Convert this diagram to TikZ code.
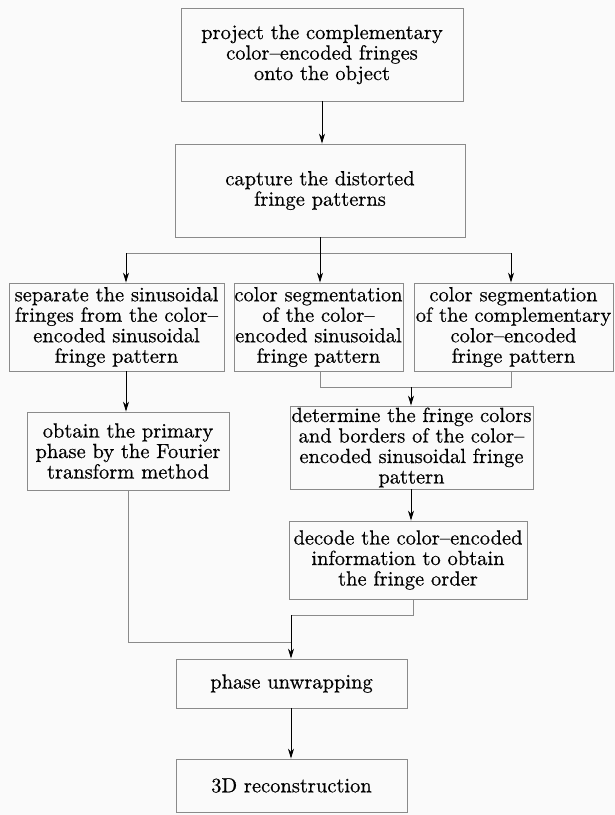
\documentclass[tikz,border=0pt]{standalone}
\usepackage{fontspec}
\setmainfont{lmroman10-regular.otf}[FakeBold=0.5]
\usetikzlibrary{arrows.meta}
\definecolor{bg}{HTML}{FAFAFA}
\definecolor{bx}{HTML}{8A8A8A}
\begin{document}
\begin{tikzpicture}[x=1pt,y=-1pt,
  box/.style={draw=bx, line width=0.9pt, rectangle, inner sep=0pt, align=center,
    font=\fontsize{20.5}{20.5}\selectfont},
  arr/.style={-{Stealth[length=10pt,width=6pt]}, line width=0.8pt, black},
  ln/.style={draw=bx, line width=0.9pt}]
\fill[bg] (0,0) rectangle (615,815);
\useasboundingbox (0,0) rectangle (615,815);

\node[box, minimum width=282pt, minimum height=93pt] (b1) at (322,54.5)
  {project the complementary\\color--encoded fringes\\onto the object};
\node[box, minimum width=290pt, minimum height=93pt] (b2) at (320,190.5)
  {capture the distorted\\fringe patterns};
\node[box, minimum width=215pt, minimum height=88pt] (b3) at (116.5,327)
  {separate the sinusoidal\\fringes from the color--\\encoded sinusoidal\\fringe pattern};
\node[box, minimum width=169pt, minimum height=88pt] (b4) at (318.5,327)
  {color segmentation\\of the color--\\encoded sinusoidal\\fringe pattern};
\node[box, minimum width=199pt, minimum height=88pt] (b5) at (513.5,327)
  {color segmentation\\of the complementary\\color--encoded\\fringe pattern};
\node[box, minimum width=202pt, minimum height=78pt] (b6) at (128,451)
  {obtain the primary\\phase by the Fourier\\transform method};
\node[box, minimum width=243pt, minimum height=83pt] (b7) at (411.5,447.5)
  {determine the fringe colors\\and borders of the color--\\encoded sinusoidal fringe\\pattern};
\node[box, minimum width=238pt, minimum height=78pt] (b8) at (408,560)
  {decode the color--encoded\\information to obtain\\the fringe order};
\node[box, minimum width=231pt, minimum height=49pt] (b9) at (291.5,683.5)
  {phase unwrapping};
\node[box, minimum width=231pt, minimum height=53pt] (b10) at (291.5,785.5)
  {3D reconstruction};

\coordinate (s) at (320,253);
\coordinate (sl) at (126,253);
\coordinate (sr) at (511,253);
\coordinate (m1) at (320,387);
\coordinate (m2) at (511,387);
\coordinate (m) at (411,387);
\coordinate (j1) at (413,615);
\coordinate (j2) at (291,615);
\coordinate (j3) at (128,642);
\coordinate (j4) at (291,642);

\draw[arr] (b1.south) -- (b1.south |- b2.north);
\draw[black, line width=0.8pt] (b2.south) -- (s);
\draw[ln] (sl) -- (sr);
\draw[arr] (sl) -- (sl |- b3.north);
\draw[arr] (s) -- (s |- b4.north);
\draw[arr] (sr) -- (sr |- b5.north);
\draw[arr] (b3.south -| sl) -- (sl |- b6.north);
\draw[ln] (b4.south -| m1) -- (m1) -- (m2) -- (b5.south -| m2);
\draw[arr] (m) -- (m |- b7.north);
\draw[arr] (b7.south -| m) -- (m |- b8.north);
\draw[ln] (b8.south -| j1) -- (j1) -- (j2);
\draw[ln] (b6.south -| j3) -- (j3) -- (j4);
\draw[arr] (j2) -- (j2 |- b9.north);
\draw[arr] (b9.south -| j2) -- (j2 |- b10.north);
\end{tikzpicture}
\end{document}
